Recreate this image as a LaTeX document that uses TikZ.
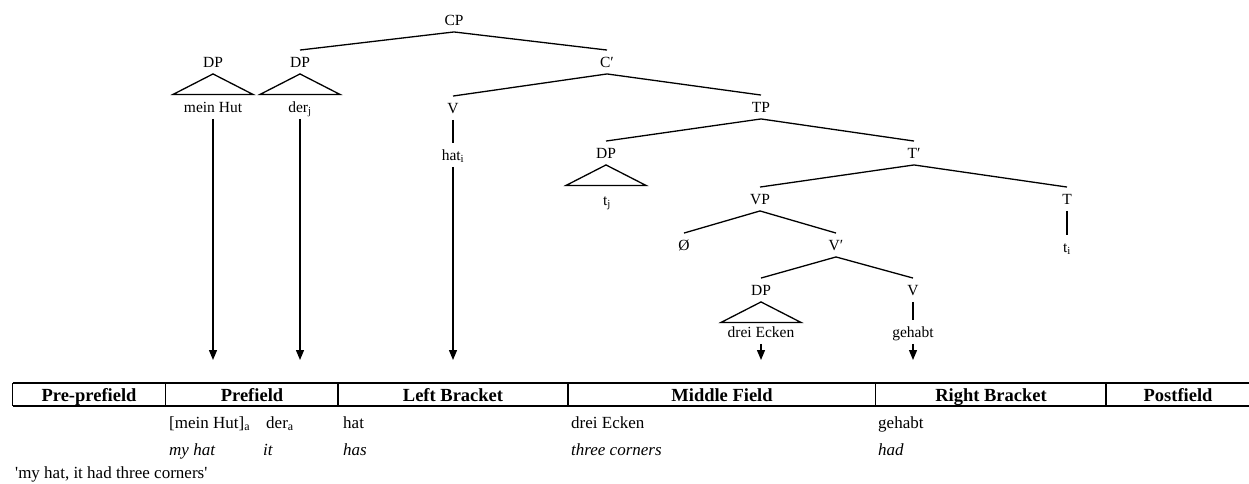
\documentclass[tikz,border=0pt]{standalone}
\usepackage{fontspec}
\setmainfont{Liberation Serif}
\usetikzlibrary{arrows.meta}
\begin{document}
\begin{tikzpicture}[x=1pt,y=-1pt,
  cat/.style={font=\fontsize{15.5}{18}\selectfont, text height=10.5pt, text depth=0pt,
              inner xsep=2pt, inner ysep=6.5pt},
  branch/.style={line width=1.3pt},
  unary/.style={line width=2pt},
  roof/.style={line width=1.3pt, line join=miter},
  move/.style={line width=1.3pt, -{Triangle[length=10pt,width=8pt]}},
  rule/.style={line width=1.1pt},
  head/.style={font=\fontsize{18.5}{22}\selectfont\bfseries, anchor=base, inner sep=0pt},
  cell/.style={font=\fontsize{17}{20}\selectfont, anchor=base west, inner sep=0pt},
  gloss/.style={cell, font=\fontsize{17}{20}\selectfont\itshape},
]
\useasboundingbox (0,0) rectangle (1249,484);

% ---- tree ----
\node[cat] (cp)    at (454,20)  {CP};
\node[cat] (dpa)   at (213,62)  {DP};
\node[cat] (hut)   at (213,107) {mein Hut};
\node[cat] (dpb)   at (300,62)  {DP};
\node[cat] (der)   at (300,107) {der\textsubscript{j}};
\node[cat] (cbar)  at (607,62)  {C′};
\node[cat] (v)     at (453,108) {V};
\node[cat] (hat)   at (453,155) {hat\textsubscript{i}};
\node[cat] (tp)    at (761,107) {TP};
\node[cat] (dpc)   at (606,153) {DP};
\node[cat] (tj)    at (607,200) {t\textsubscript{j}};
\node[cat] (tbar)  at (914,153) {T′};
\node[cat] (vp)    at (760,199) {VP};
\node[cat] (t)     at (1067,199) {T};
\node[cat] (ti)    at (1067,247) {t\textsubscript{i}};
\node[cat] (empty) at (684,245) {Ø};
\node[cat] (vbar)  at (836,245) {V′};
\node[cat] (dpd)   at (761,290) {DP};
\node[cat] (ecken) at (761,332) {drei Ecken};
\node[cat] (vb)    at (913,290) {V};
\node[cat] (gehabt) at (913,332) {gehabt};

\draw[branch] (cp.south) -- (dpb.north);
\draw[branch] (cp.south) -- (cbar.north);
\draw[branch] (cbar.south) -- (v.north);
\draw[branch] (cbar.south) -- (tp.north);
\draw[branch] (tp.south) -- (dpc.north);
\draw[branch] (tp.south) -- (tbar.north);
\draw[branch] (tbar.south) -- (vp.north);
\draw[branch] (tbar.south) -- (t.north);
\draw[branch] (vp.south) -- (empty.north);
\draw[branch] (vp.south) -- (vbar.north);
\draw[branch] (vbar.south) -- (dpd.north);
\draw[branch] (vbar.south) -- (vb.north);

\draw[unary] (v.south) -- (hat.north);
\draw[unary] (t.south) -- (ti.north);
\draw[unary] (vb.south) -- (gehabt.north);

% roofs over unanalysed phrases
\foreach \n in {dpa,dpb,dpc,dpd}
  \draw[roof] (\n.south) -- ++(-40,20.5) -- ++(80,0) -- cycle;

% ---- movement into the topological fields ----
\coordinate (endhut) at (213,360);
\coordinate (endder) at (300,360);
\coordinate (endhat) at (453,360);
\coordinate (endecken) at (761,360);
\coordinate (endgehabt) at (913,360);
\draw[move] (hut.south) -- (endhut);
\draw[move] (der.south) -- (endder);
\draw[move] (hat.south) -- (endhat);
\draw[move] (ecken.south) -- (endecken);
\draw[move] (gehabt.south) -- (endgehabt);

% ---- field table ----
\draw[rule] (12.7,383) -- (1249,383);
\draw[rule] (12.7,406) -- (1249,406);
\foreach \x in {12.7,165.7,338,568,875.5,1106}
  \draw[rule] (\x,383) -- (\x,406);

\node[head] (h1) at (89,401.5)   {Pre-prefield};
\node[head] (h2) at (252,401.5)  {Prefield};
\node[head] (h3) at (453,401.5)  {Left Bracket};
\node[head] (h4) at (722,401.5)  {Middle Field};
\node[head] (h5) at (991,401.5)  {Right Bracket};
\node[head] (h6) at (1178,401.5) {Postfield};

\node[cell] (r1a) at (169,428) {[mein Hut]\textsubscript{a}};
\node[cell] (r1b) at (266,428) {der\textsubscript{a}};
\node[cell] (r1c) at (343,428) {hat};
\node[cell] (r1d) at (571,428) {drei Ecken};
\node[cell] (r1e) at (878,428) {gehabt};

\node[gloss] (r2a) at (169,455) {my hat};
\node[gloss] (r2b) at (263,455) {it};
\node[gloss] (r2c) at (343,455) {has};
\node[gloss] (r2d) at (571,455) {three corners};
\node[gloss] (r2e) at (878,455) {had};

\node[cell] (trans) at (15,478) {\textquotesingle my hat, it had three corners\textquotesingle};
\end{tikzpicture}
\end{document}
